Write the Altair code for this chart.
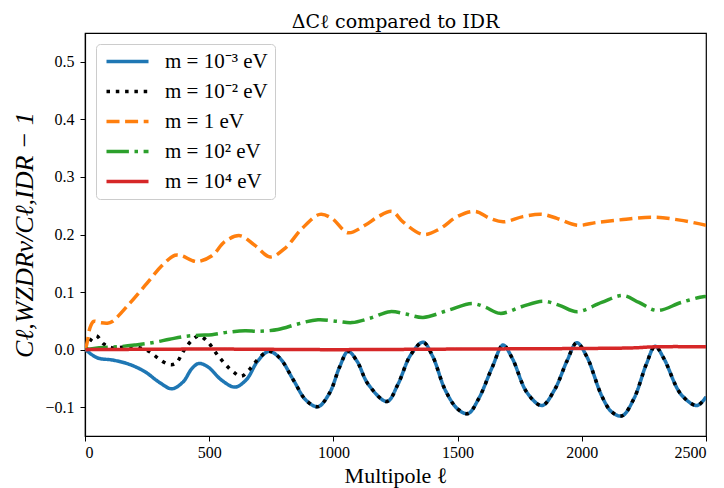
import altair as alt
import pandas as pd

labels = ["m = 10⁻³ eV", "m = 10⁻² eV", "m = 1 eV", "m = 10² eV", "m = 10⁴ eV"]
colors = ["#1f77b4", "#000000", "#ff7f0e", "#2ca02c", "#d62728"]
dashes = [[1, 0], [3.5, 5.8], [13, 5.6], [22.4, 5.6, 3.5, 5.6], [1, 0]]

x_ticks = [0, 500, 1000, 1500, 2000, 2500]
y_ticks = [-0.1, 0.0, 0.1, 0.2, 0.3, 0.4, 0.5]

# m = 1e-3 eV (blue)
blue_l = [2, 25, 55, 110, 175, 240, 300, 350, 395, 430, 458, 495, 550, 604, 650, 695, 740, 785, 838, 890,
          938, 985, 1025, 1059, 1095, 1140, 1216, 1260, 1310, 1361, 1400, 1450, 1500, 1542, 1585, 1640,
          1683, 1720, 1780, 1840, 1890, 1940, 1980, 2020, 2080, 2120, 2162, 2210, 2260, 2295, 2330, 2400,
          2464, 2500]
blue_v = [0.0, -0.008, -0.015, -0.018, -0.025, -0.038, -0.057, -0.068, -0.056, -0.033, -0.024, -0.030,
          -0.053, -0.065, -0.052, -0.020, -0.003, -0.015, -0.052, -0.088, -0.099, -0.075, -0.030, -0.003,
          -0.020, -0.060, -0.090, -0.060, -0.010, 0.013, -0.012, -0.070, -0.103, -0.111, -0.085, -0.030,
          0.008, -0.015, -0.075, -0.097, -0.070, -0.020, 0.012, -0.012, -0.080, -0.108, -0.115, -0.085,
          -0.025, 0.006, -0.015, -0.078, -0.097, -0.082]

# m = 1e-2 eV (black dotted) – early part differs, later identical to blue
black_l = [2, 20, 45, 75, 110, 150, 190, 230, 262, 300, 340, 365, 400, 430, 460, 495, 540, 595, 630, 665,
           700, 740, 785, 838, 890, 938, 985, 1025, 1059, 1095, 1140, 1216, 1260, 1310, 1361, 1400, 1450,
           1500, 1542, 1585, 1640, 1683, 1720, 1780, 1840, 1890, 1940, 1980, 2020, 2080, 2120, 2162, 2210,
           2260, 2295, 2330, 2400, 2464, 2500]
black_v = [0.0, 0.015, 0.024, 0.010, 0.003, 0.004, 0.006, 0.002, -0.004, -0.017, -0.026, -0.024, 0.0,
           0.016, 0.024, 0.013, -0.013, -0.038, -0.046, -0.033, -0.015, -0.003, -0.015, -0.052, -0.088,
           -0.099, -0.075, -0.030, -0.003, -0.020, -0.060, -0.090, -0.060, -0.010, 0.013, -0.012, -0.070,
           -0.103, -0.111, -0.085, -0.030, 0.008, -0.015, -0.075, -0.097, -0.070, -0.020, 0.012, -0.012,
           -0.080, -0.108, -0.115, -0.085, -0.025, 0.006, -0.015, -0.078, -0.097, -0.082]

# m = 1 eV (orange dashed)
orange_l = [2, 10, 20, 35, 60, 90, 110, 173, 241, 310, 362, 390, 430, 455, 511, 564, 624, 684, 745, 805,
            873, 946, 994, 1059, 1127, 1180, 1236, 1280, 1361, 1429, 1498, 1570, 1630, 1683, 1763, 1840,
            1900, 1981, 2061, 2166, 2287, 2395, 2500]
orange_v = [0.0, 0.015, 0.038, 0.049, 0.047, 0.046, 0.049, 0.077, 0.111, 0.146, 0.164, 0.163, 0.155,
            0.153, 0.163, 0.188, 0.198, 0.181, 0.161, 0.176, 0.210, 0.235, 0.228, 0.203, 0.216, 0.231,
            0.240, 0.222, 0.200, 0.210, 0.231, 0.240, 0.228, 0.222, 0.231, 0.235, 0.228, 0.216, 0.221,
            0.226, 0.230, 0.225, 0.216]

# m = 1e2 eV (green dash-dot)
green_l = [2, 50, 133, 200, 270, 340, 403, 460, 511, 570, 644, 700, 777, 860, 938, 1019, 1075, 1150, 1228,
           1290, 1361, 1460, 1558, 1610, 1671, 1760, 1844, 1910, 1981, 2080, 2166, 2230, 2303, 2400, 2488,
           2500]
green_v = [0.0, 0.003, 0.005, 0.008, 0.012, 0.018, 0.023, 0.025, 0.026, 0.030, 0.033, 0.032, 0.035, 0.045,
           0.052, 0.049, 0.047, 0.055, 0.066, 0.062, 0.056, 0.068, 0.080, 0.074, 0.063, 0.075, 0.084, 0.077,
           0.066, 0.082, 0.094, 0.082, 0.068, 0.082, 0.092, 0.092]

# m = 1e4 eV (red)
red_l = [2, 500, 1000, 1500, 2000, 2200, 2300, 2500]
red_v = [0.0, 0.001, 0.0, 0.001, 0.002, 0.003, 0.005, 0.005]

series = [(blue_l, blue_v), (black_l, black_v), (orange_l, orange_v), (green_l, green_v), (red_l, red_v)]

rows = []
for lab, (ls, vs) in zip(labels, series):
    for l, v in zip(ls, vs):
        rows.append({"series": lab, "ell": l, "dcl": v})
df = pd.DataFrame(rows)

FONT = "Liberation Serif"
TFONT = "DejaVu Serif"

leg = alt.Legend(title=None, orient="top-left", offset=11)

base = alt.Chart(df)
layers = []
for lab in labels:
    layers.append(
        base.transform_filter(alt.datum.series == lab)
        .mark_line(interpolate="catmull-rom", strokeWidth=3.5, clip=True, strokeCap="butt")
        .encode(
            x=alt.X("ell:Q", scale=alt.Scale(domain=[0, 2500], nice=False),
                    axis=alt.Axis(values=x_ticks, title="Multipole ℓ", format="d")),
            y=alt.Y("dcl:Q", scale=alt.Scale(domain=[-0.15, 0.55], nice=False, zero=False),
                    axis=alt.Axis(values=y_ticks, format=".1f",
                                  labelExpr="replace(datum.label, '-', '−')",
                                  title="Cℓ,WZDRν/Cℓ,IDR − 1")),
            color=alt.Color("series:N", scale=alt.Scale(domain=labels, range=colors), legend=leg),
            strokeDash=alt.StrokeDash("series:N", scale=alt.Scale(domain=labels, range=dashes), legend=leg),
        )
    )

chart = (
    alt.layer(*layers)
    .properties(
        width=621,
        height=403,
        title=alt.TitleParams("ΔCℓ compared to IDR", font=TFONT, fontSize=19, fontWeight="normal",
                              offset=1, color="black"),
        autosize=alt.AutoSizeParams(type="none"),
        padding={"left": 77, "top": 25, "right": 10, "bottom": 52},
    )
    .configure_view(stroke="black", strokeWidth=1.2)
    .configure_axis(
        grid=False,
        domainColor="black",
        domainWidth=1.2,
        tickColor="black",
        tickSize=5,
        labelFont=FONT,
        labelFontSize=16,
        labelColor="black",
        titleFont=FONT,
        titleFontSize=22,
        titleFontWeight="normal",
        titleColor="black",
        labelPadding=3,
    )
    .configure_axisY(titlePadding=7, labelPadding=6, titleFontStyle="italic", titleFontSize=26)
    .configure_axisX(titlePadding=5)
    .configure_legend(
        symbolType="M-1,0L5,0",
        symbolSize=196,
        symbolStrokeWidth=3.5,
        labelOffset=41,
        labelFont=FONT,
        labelFontSize=21,
        labelColor="black",
        rowPadding=8,
        padding=7,
        strokeColor="#cccccc",
        fillColor="rgba(255,255,255,0.85)",
        cornerRadius=4,
    )
)

chart.save("out.html", embed_options={"renderer": "svg", "actions": False})
